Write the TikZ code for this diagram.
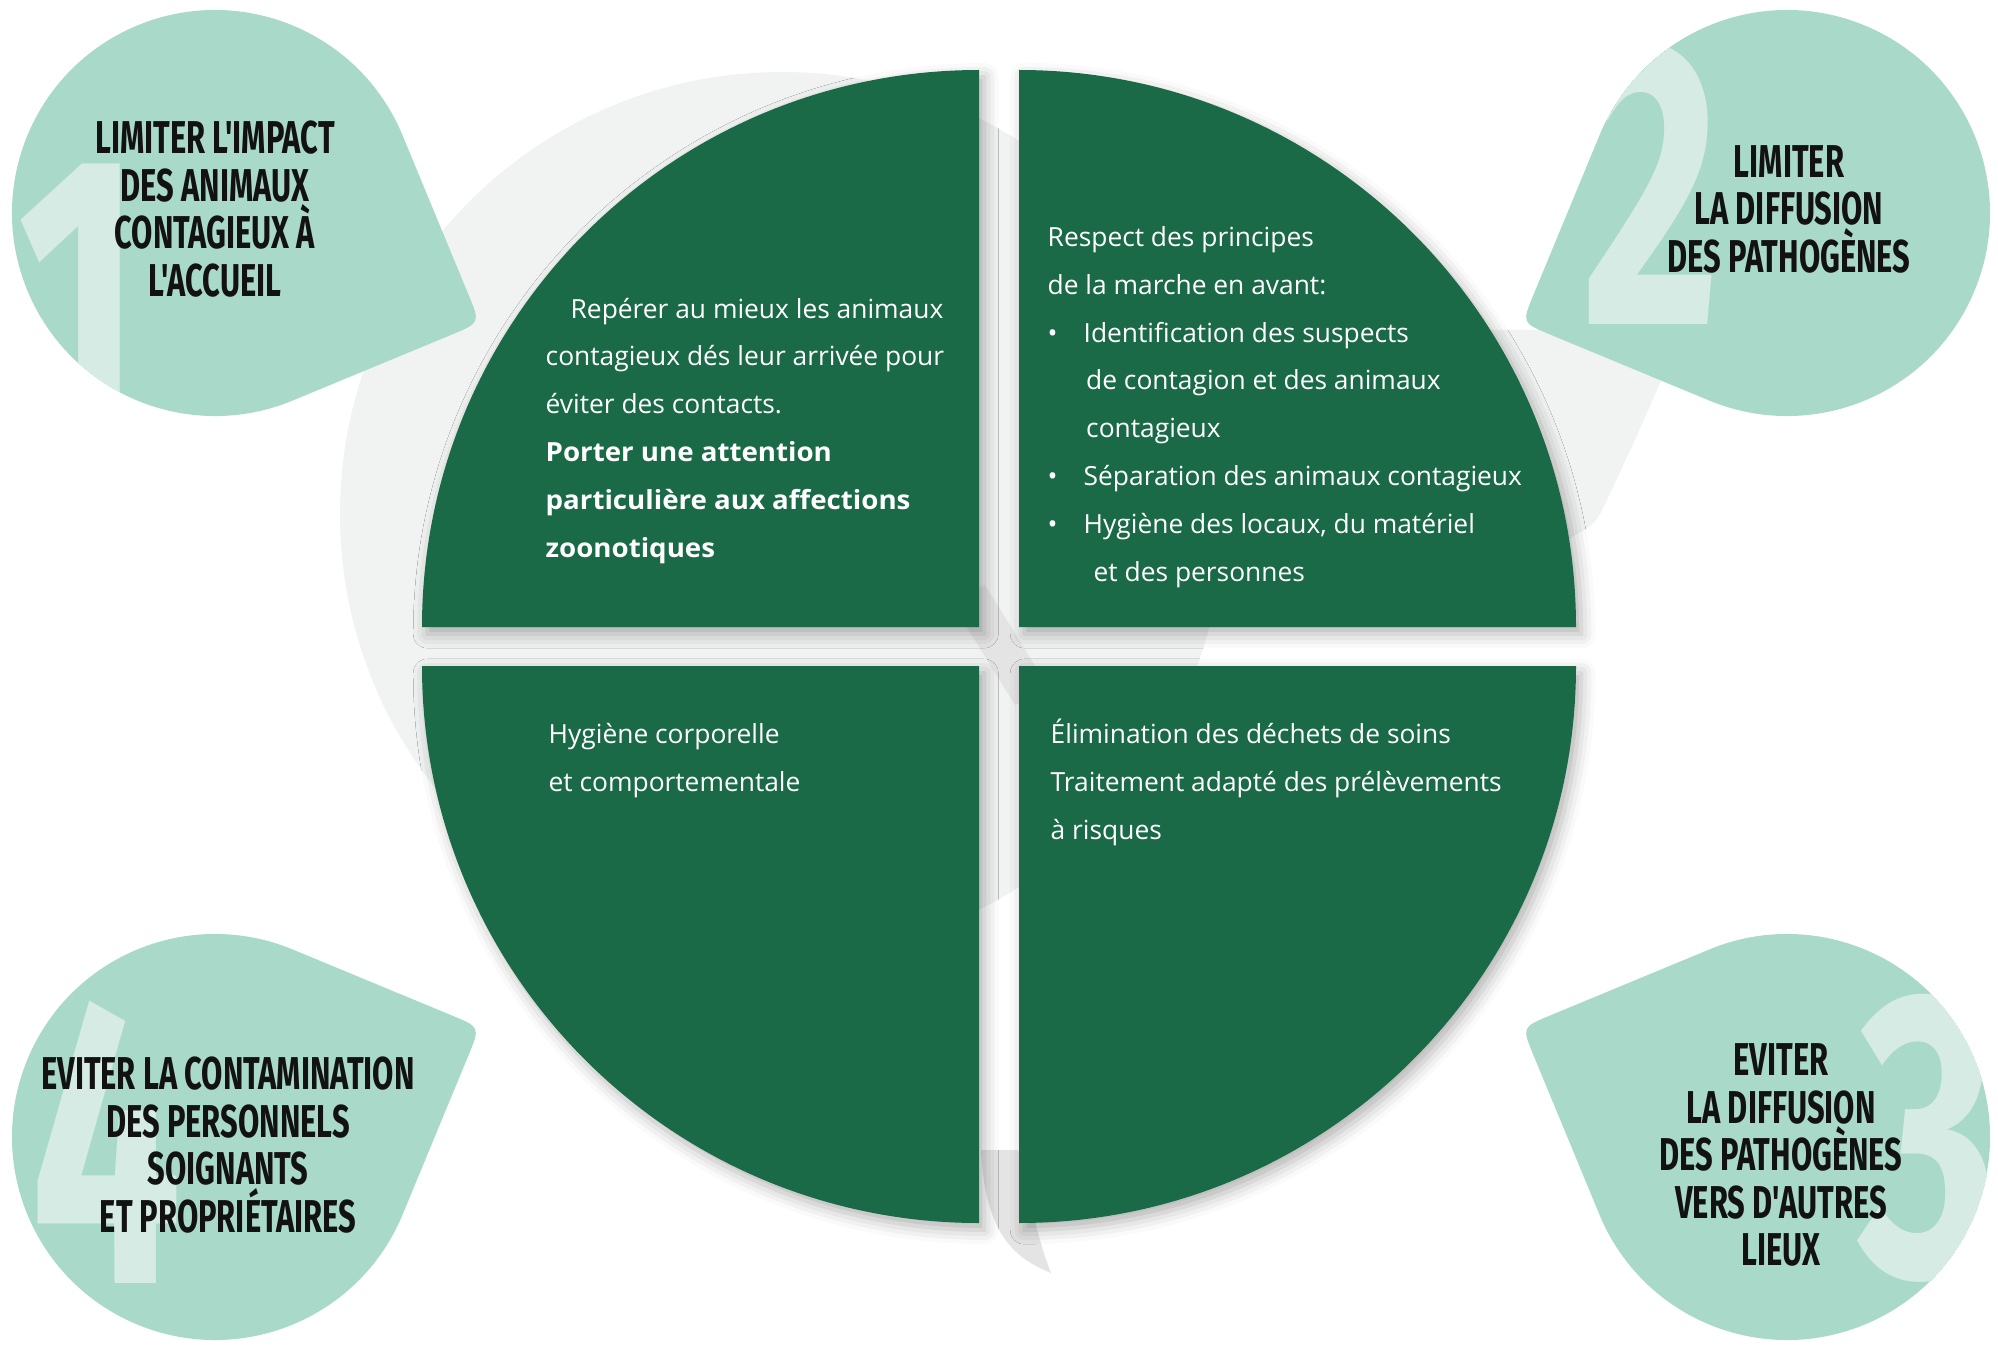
\documentclass[tikz,border=0pt]{standalone}
\usepackage{fontspec}
\setmainfont{Open Sans}[BoldFeatures={FakeStretch=1.05}]
\newfontfamily\headfont[FakeStretch=0.67]{Fira Sans}
\newfontfamily\numfont[FakeStretch=0.66]{Fira Sans}
\usetikzlibrary{calc,shadows.blur}
\definecolor{quadgreen}{HTML}{1A6A47}
\definecolor{dropgreen}{HTML}{A9D9C9}
\definecolor{numgreen}{HTML}{D5EBE3}
\definecolor{markgrey}{HTML}{F1F2F2}
\definecolor{tailgrey}{HTML}{E4E4E4}
\definecolor{headblack}{HTML}{121212}

\begin{document}
\begin{tikzpicture}[x=0.1mm,y=-0.1mm,
  quadfill/.style={fill=quadgreen,blur shadow={shadow xshift=1.5pt,shadow yshift=-2pt,shadow blur radius=4pt,shadow opacity=30}},
  bodytext/.style={text=white,font=\fontsize{7.5pt}{13.6pt}\selectfont,align=left,inner sep=0pt,anchor=base west},
  headtext/.style={text=headblack,font=\headfont\bfseries\fontsize{13.1pt}{13.5pt}\selectfont,align=center,inner sep=0pt},
  bignum/.style={text=numgreen,font=\numfont\bfseries\fontsize{116pt}{116pt}\selectfont,inner sep=0pt}]
\useasboundingbox (0,0) rectangle (1998,1347);

% faint mark behind the disc
\fill[markgrey] (782,514) circle[radius=442];
\fill[markgrey] (1480,330) -- (1700,330) -- (1660,383) .. controls (1635,440) .. (1607,500) .. controls (1595,525) .. (1566,540) -- (1450,450) -- cycle;
\fill[tailgrey] (981,1150) .. controls (985,1240) and (1020,1260) .. (1051,1273) .. controls (1042,1250) and (1035,1225) .. (1018,1150) -- cycle;
\fill[tailgrey] (950,600) -- (985,585) -- (1050,690) -- (1015,705) -- cycle;

% the four quarters
\fill[quadfill] (979,627) -- (422,627) arc[start angle=180,end angle=270,radius=557] -- cycle;
\fill[quadfill] (1019,627) -- (1019,70) arc[start angle=270,end angle=360,radius=557] -- cycle;
\fill[quadfill] (1019,666) -- (1576,666) arc[start angle=0,end angle=90,radius=557] -- cycle;
\fill[quadfill] (979,666) -- (979,1223) arc[start angle=90,end angle=180,radius=557] -- cycle;

% drops with their numbers
\foreach \cx/\cy/\tip/\n/\nx/\ny in {215/213/22.5/1/-135/89, 1787/213/157.5/2/-136/-29, 1787/1137/202.5/3/141/1, 215/1137/337.5/4/-108/5}{
  \begin{scope}[shift={(\cx,\cy)}]
    \coordinate (ta) at (\tip-45:203);
    \coordinate (tb) at (\tip+45:203);
    \coordinate (tc) at (\tip:287);
    \fill[dropgreen] (ta) -- ($(tc)!0.15!(ta)$) .. controls (tc) .. ($(tc)!0.15!(tb)$) -- (tb) arc[start angle=\tip+45,end angle=\tip+315,radius=203] -- cycle;
    \clip (ta) -- ($(tc)!0.15!(ta)$) .. controls (tc) .. ($(tc)!0.15!(tb)$) -- (tb) arc[start angle=\tip+45,end angle=\tip+315,radius=203] -- cycle;
    \node[bignum] (num\n) at (\nx,\ny){\n};
  \end{scope}}

\node[headtext] (head1) at (215,209){LIMITER L'IMPACT\\DES ANIMAUX\\CONTAGIEUX À\\L'ACCUEIL};
\node[headtext] (head2) at (1789,209){LIMITER\\LA DIFFUSION\\DES PATHOGÈNES};
\node[headtext] (head3) at (1781,1155){EVITER\\LA DIFFUSION\\DES PATHOGÈNES\\VERS D'AUTRES\\LIEUX};
\node[headtext] (head4) at (228,1145){EVITER LA CONTAMINATION\\DES PERSONNELS\\SOIGNANTS\\ET PROPRIÉTAIRES};

\node[bodytext] (tltext) at (545,557){\hspace*{2.5mm}Repérer au mieux les animaux\\contagieux dés leur arrivée pour\\éviter des contacts.\\\textbf{Porter une attention}\\\textbf{particulière aux affections}\\\textbf{zoonotiques}};
\node[bodytext] (trtext) at (1047,581){Respect des principes\\de la marche en avant:\\\makebox[3.6mm][l]{\textbullet}Identification des suspects\\\hspace*{3.85mm}de contagion et des animaux\\\hspace*{3.85mm}contagieux\\\makebox[3.6mm][l]{\textbullet}Séparation des animaux contagieux\\\makebox[3.6mm][l]{\textbullet}Hygiène des locaux, du matériel\\\hspace*{4.6mm}et des personnes};
\node[bodytext] (bltext) at (548,791){Hygiène corporelle\\et comportementale};
\node[bodytext] (brtext) at (1050,839){Élimination des déchets de soins\\Traitement adapté des prélèvements\\à risques};
\end{tikzpicture}
\end{document}
